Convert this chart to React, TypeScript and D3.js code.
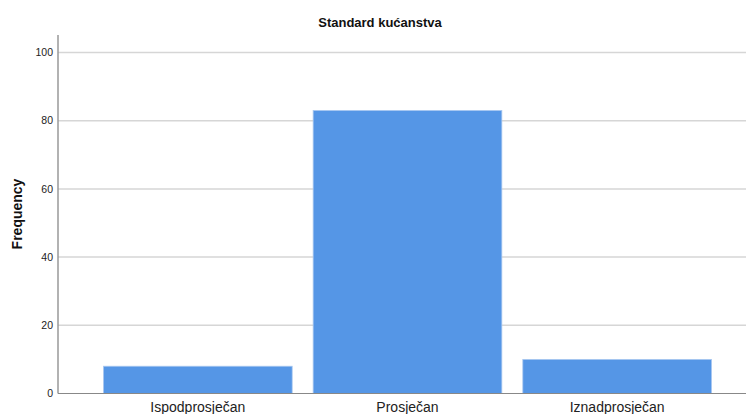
import * as d3 from "d3";

const categories = ["Ispodprosječan", "Prosječan", "Iznadprosječan"];
const frequencies = [8, 83, 10];
const yTicks = [0, 20, 40, 60, 80, 100];

const WIDTH = 746;
const HEIGHT = 414;
const AXIS_X = 58;
const AXIS_TOP = 35;
const AXIS_BOTTOM = 393.5;

export default function App() {
  const y = d3.scaleLinear().domain([0, 100]).range([AXIS_BOTTOM, 52.5]);
  const x = d3.scaleBand<string>().domain(categories).range([93, 722]).paddingInner(0.1).paddingOuter(0.05);

  return (
    <svg
      width={WIDTH}
      height={HEIGHT}
      style={{ position: "absolute", left: 0, top: 0, fontFamily: "Liberation Sans, Arial, sans-serif" }}
    >
      <rect width={WIDTH} height={HEIGHT} fill="#fff" />
      <text x={380} y={27} textAnchor="middle" fontSize={13} fontWeight="bold" fill="#111">
        Standard kućanstva
      </text>
      {yTicks.filter((t) => t > 0).map((t) => (
        <line key={t} x1={AXIS_X} x2={WIDTH} y1={y(t)} y2={y(t)} stroke="#d6d6d6" strokeWidth={1.5} />
      ))}
      {categories.map((c, i) => (
        <rect
          key={c}
          x={x(c)}
          width={x.bandwidth()}
          y={y(frequencies[i])}
          height={AXIS_BOTTOM - y(frequencies[i])}
          fill="#5596e6"
          stroke="#a9c8f0"
          strokeWidth={0.8}
        />
      ))}
      <line x1={AXIS_X} x2={AXIS_X} y1={AXIS_TOP} y2={AXIS_BOTTOM} stroke="#999" strokeWidth={1.5} />
      <line x1={AXIS_X} x2={WIDTH} y1={AXIS_BOTTOM} y2={AXIS_BOTTOM} stroke="#888" strokeWidth={1} />
      {yTicks.map((t) => (
        <text key={t} x={53} y={y(t)} dy="0.35em" textAnchor="end" fontSize={10.5} fill="#222">
          {t}
        </text>
      ))}
      {categories.map((c) => (
        <text key={c} x={(x(c) ?? 0) + x.bandwidth() / 2} y={412} textAnchor="middle" fontSize={14} fill="#222">
          {c}
        </text>
      ))}
      <text
        transform={`translate(22,214) rotate(-90)`}
        textAnchor="middle"
        fontSize={14}
        fontWeight="bold"
        fill="#111"
      >
        Frequency
      </text>
    </svg>
  );
}
